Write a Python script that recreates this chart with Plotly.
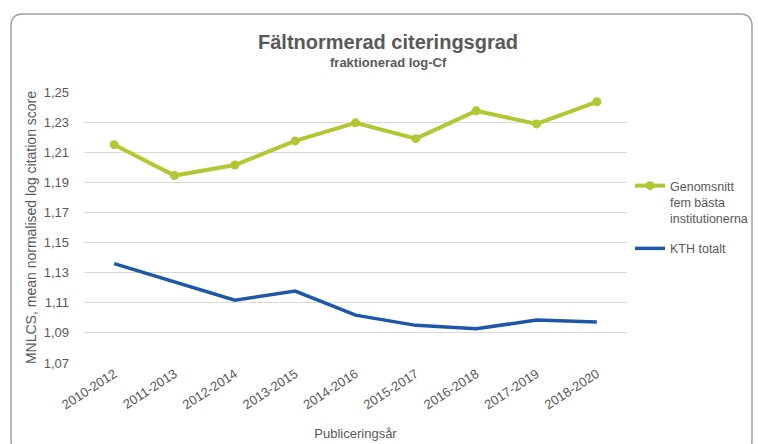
import plotly.graph_objects as go

categories = ["2010-2012", "2011-2013", "2012-2014", "2013-2015", "2014-2016",
              "2015-2017", "2016-2018", "2017-2019", "2018-2020"]
top5_avg = [1.215, 1.1945, 1.2015, 1.2175, 1.2295, 1.219, 1.2375, 1.2288, 1.2435]
kth_total = [1.136, 1.124, 1.1117, 1.1178, 1.1018, 1.095, 1.0928, 1.0985, 1.0973]
y_ticks = [1.07, 1.09, 1.11, 1.13, 1.15, 1.17, 1.19, 1.21, 1.23, 1.25]

W, H = 758, 444
L, R, T, B = 84, 627, 92, 363  # plot area in pixels

def px(x):
    return (x - L) / (R - L)

def py(y):
    return (B - y) / (B - T)

FONT = "Liberation Sans, Arial, sans-serif"
GREY = "#595959"

fig = go.Figure()
fig.add_trace(go.Scatter(
    x=categories, y=top5_avg, mode="lines+markers",
    name="Genomsnitt<br>fem bästa<br>institutionerna",
    line=dict(color="#b2c733", width=4),
    marker=dict(size=9, color="#b2c733"),
    legendgroup="a",
))
fig.add_trace(go.Scatter(
    x=categories, y=kth_total, mode="lines",
    name="KTH totalt",
    line=dict(color="#1f57a8", width=3.5),
    legendgroup="b",
))

# rounded frame around the chart
x0, x1, y0, y1, r = 11, 752, 14, 452, 12
path = (f"M {px(x0+r)},{py(y0)} L {px(x1-r)},{py(y0)} Q {px(x1)},{py(y0)} {px(x1)},{py(y0+r)} "
        f"L {px(x1)},{py(y1-r)} Q {px(x1)},{py(y1)} {px(x1-r)},{py(y1)} "
        f"L {px(x0+r)},{py(y1)} Q {px(x0)},{py(y1)} {px(x0)},{py(y1-r)} "
        f"L {px(x0)},{py(y0+r)} Q {px(x0)},{py(y0)} {px(x0+r)},{py(y0)} Z")

fig.update_layout(
    width=W, height=H,
    margin=dict(l=L, r=W - R, t=T, b=H - B, pad=0, autoexpand=False),
    paper_bgcolor="white", plot_bgcolor="white",
    separators=", ",
    font=dict(family=FONT, color=GREY, size=12),
    shapes=[dict(type="path", path=path, xref="paper", yref="paper",
                 line=dict(color="#a0a0a0", width=1.5), layer="below")],
    annotations=[
        dict(text="<b>Fältnormerad citeringsgrad</b>", x=px(388), y=py(42),
             xref="paper", yref="paper", showarrow=False,
             font=dict(size=20, color=GREY, family=FONT), xanchor="center", yanchor="middle"),
        dict(text="<b>fraktionerad log-Cf</b>", x=px(388), y=py(63),
             xref="paper", yref="paper", showarrow=False,
             font=dict(size=13, color=GREY, family=FONT), xanchor="center", yanchor="middle"),
    ],
    legend=dict(x=px(630), y=py(171), xanchor="left", yanchor="top",
                font=dict(size=12.5, color=GREY, family=FONT),
                tracegroupgap=11, valign="top", bgcolor="rgba(0,0,0,0)"),
    showlegend=True,
)
fig.update_xaxes(
    type="category", range=[-0.5, 8.5], tickangle=-33,
    showgrid=False, showline=False, ticks="",
    tickfont=dict(size=13, color=GREY),
    title=dict(text="Publiceringsår", font=dict(size=13, color=GREY), standoff=17),
)
fig.update_yaxes(
    range=[1.07, 1.25], tickvals=y_ticks, tickformat=".2f",
    showgrid=True, gridcolor="#d9d9d9", gridwidth=1,
    zeroline=False, showline=False, ticks="",
    ticklabelstandoff=14,
    tickfont=dict(size=13, color=GREY),
    title=dict(text="MNLCS, mean normalised log citation score",
               font=dict(size=14, color=GREY), standoff=3),
)

fig.write_html("out.html", config={"displayModeBar": False},
               post_script="document.body.style.margin='0px';")
